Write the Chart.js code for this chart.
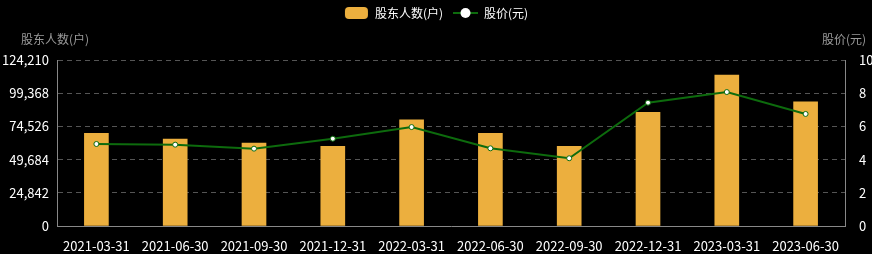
<!DOCTYPE html>
<html>
<head>
<meta charset="utf-8">
<script src="https://cdn.jsdelivr.net/npm/chart.js@4"></script>
<style>
    html, body { margin: 0; padding: 0; background: #000; }
    #wrap { width: 872px; height: 254px; }
</style>
</head>
<body>
<div id="wrap"><canvas id="holderChart"></canvas></div>
<script>
/* --- Data --- */
const dates = ['2021-03-31', '2021-06-30', '2021-09-30', '2021-12-31', '2022-03-31',
               '2022-06-30', '2022-09-30', '2022-12-31', '2023-03-31', '2023-06-30'];
const holders = [69400, 65100, 62100, 59600, 79500, 69400, 59600, 85100, 112918, 93000];
const prices = [4.94, 4.90, 4.66, 5.26, 5.96, 4.68, 4.08, 7.43, 8.07, 6.75];
const holderTicks = [0, 24842, 49684, 74526, 99368, 124210];
const priceTicks = [0, 2, 4, 6, 8, 10];

const FONT = '"Noto Sans CJK SC", "Noto Sans", sans-serif';
const BAR_COLOR = '#ecaf3e';
const LINE_COLOR = '#0d6b0d';

/* --- Legend swatches --- */
function makeSwatch(draw) {
    const c = document.createElement('canvas');
    c.width = 25; c.height = 14;
    draw(c.getContext('2d'));
    return c;
}
const barSwatch = makeSwatch(ctx => {
    ctx.fillStyle = BAR_COLOR;
    ctx.beginPath();
    ctx.roundRect(1, 1, 23, 12, 4);
    ctx.fill();
});
const lineSwatch = makeSwatch(ctx => {
    ctx.strokeStyle = LINE_COLOR;
    ctx.lineWidth = 2;
    ctx.beginPath(); ctx.moveTo(0, 7); ctx.lineTo(25, 7); ctx.stroke();
    ctx.fillStyle = '#fff';
    ctx.beginPath(); ctx.arc(12.5, 7, 5, 0, Math.PI * 2); ctx.fill();
});

/* --- Plugins --- */
// legend block takes the top 60px so the plot starts where the reference does
const fixedLegend = {
    id: 'fixedLegend',
    beforeInit(chart) {
        const fit = chart.legend.fit;
        chart.legend.fit = function() {
            fit.call(this);
            this.height = 63;
        };
    }
};

const axisNames = {
    id: 'axisNames',
    afterDraw(chart) {
        const { ctx } = chart;
        ctx.save();
        ctx.font = '12px ' + FONT;
        ctx.fillStyle = '#9a9a9a';
        ctx.textBaseline = 'middle';
        ctx.textAlign = 'center';
        ctx.fillText('股东人数(户)', 55, 39);
        ctx.textAlign = 'right';
        ctx.fillText('股价(元)', 866, 39);
        ctx.restore();
    }
};

/* --- Chart --- */
const ctx = document.getElementById('holderChart').getContext('2d');
new Chart(ctx, {
    data: {
        labels: dates,
        datasets: [
            {
                type: 'line',
                label: '股价(元)',
                data: prices,
                yAxisID: 'y1',
                borderColor: LINE_COLOR,
                borderWidth: 2,
                pointRadius: 2.5,
                pointBackgroundColor: '#fff',
                pointBorderColor: LINE_COLOR,
                pointBorderWidth: 1,
                tension: 0,
                order: 0
            },
            {
                type: 'bar',
                label: '股东人数(户)',
                data: holders,
                yAxisID: 'y',
                backgroundColor: BAR_COLOR,
                barThickness: 24,
                order: 1
            }
        ]
    },
    options: {
        responsive: true,
        maintainAspectRatio: false,
        animation: false,
        layout: { padding: { top: -3 } },
        plugins: {
            legend: {
                labels: {
                    color: '#fff',
                    font: { family: FONT, size: 12 },
                    usePointStyle: true,
                    pointStyleWidth: 25,
                    boxHeight: 14,
                    padding: 10,
                    generateLabels() {
                        return [
                            { text: '股东人数(户)', pointStyle: barSwatch, fontColor: '#fff', datasetIndex: 1, lineWidth: 0 },
                            { text: '股价(元)', pointStyle: lineSwatch, fontColor: '#fff', datasetIndex: 0, lineWidth: 0 }
                        ];
                    }
                }
            },
            tooltip: { enabled: false }
        },
        scales: {
            x: {
                offset: true,
                grid: { display: false },
                border: { color: '#888', width: 1 },
                ticks: { color: '#fff', font: { family: FONT, size: 13 }, maxRotation: 0, autoSkip: false, padding: 4 },
                afterFit(scale) { scale.height = 28; }
            },
            y: {
                position: 'left',
                min: 0,
                max: holderTicks[holderTicks.length - 1],
                afterBuildTicks(scale) { scale.ticks = holderTicks.map(v => ({ value: v })); },
                grid: { color: '#555', drawTicks: false },
                border: { color: '#888', dash: [5, 4], width: 1 },
                ticks: {
                    color: '#fff',
                    font: { family: FONT, size: 13 },
                    padding: 8,
                    callback: v => v.toLocaleString('en-US')
                },
                afterFit(scale) { scale.width = 57; }
            },
            y1: {
                position: 'right',
                min: 0,
                max: 10,
                afterBuildTicks(scale) { scale.ticks = priceTicks.map(v => ({ value: v })); },
                grid: { display: false },
                border: { color: '#888', width: 1 },
                ticks: { color: '#fff', font: { family: FONT, size: 13 }, padding: 6 },
                afterFit(scale) { scale.width = 27; }
            }
        }
    },
    plugins: [fixedLegend, axisNames]
});
</script>
</body>
</html>
